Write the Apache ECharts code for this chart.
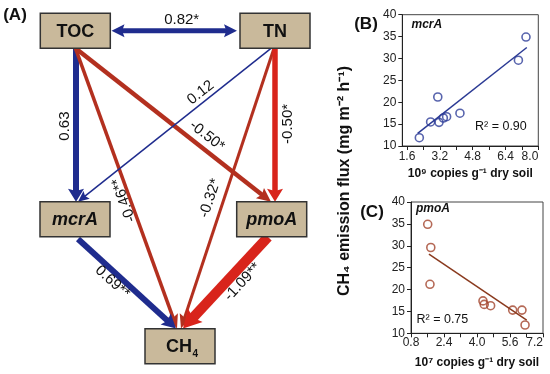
<!DOCTYPE html>
<html><head><meta charset="utf-8">
<script src="https://cdn.jsdelivr.net/npm/echarts@6/dist/echarts.min.js"></script>
<style>html,body{margin:0;padding:0;background:#fff}#c{width:550px;height:374px}</style>
</head><body><div id="c"></div>
<script>
// ---------- Panel A: path model ----------
const pathNodes = ['TOC', 'TN', 'mcrA', 'pmoA', 'CH4'];
const pathFrom = ['TOC', 'TOC', 'TOC', 'TOC', 'TN', 'TN', 'TN', 'mcrA', 'pmoA'];
const pathTo   = ['TN', 'mcrA', 'CH4', 'pmoA', 'mcrA', 'CH4', 'pmoA', 'CH4', 'CH4'];
const pathCoef = [0.82, 0.63, -0.46, -0.50, 0.12, -0.32, -0.50, 0.69, -1.09];
const pathSig  = ['*', '', '**', '*', '', '*', '*', '**', '**'];

// ---------- Panel B: mcrA ----------
const mcrACopies = [2.20, 2.75, 3.10, 3.16, 3.37, 3.53, 4.18, 7.03, 7.40];
const mcrAFlux   = [11.9, 15.5, 21.2, 15.4, 16.4, 16.7, 17.5, 29.6, 34.9];
const mcrAFitX = [2.12, 7.44];
const mcrAFitY = [12.9, 32.5];
const mcrAR2 = '0.90';
const mcrATickLabels = [1.6, 3.2, 4.8, 6.4, 8.0];
const mcrATicks = [1.6, 2.4, 3.2, 4.0, 4.8, 5.6, 6.4, 7.2, 8.0];

// ---------- Panel C: pmoA ----------
const pmoACopies = [1.61, 1.76, 1.72, 4.29, 4.35, 4.66, 5.73, 6.18, 6.33];
const pmoAFlux   = [34.9, 29.6, 21.2, 17.4, 16.6, 16.3, 15.3, 15.3, 11.9];
const pmoAFitX = [1.67, 6.41];
const pmoAFitY = [28.1, 13.0];
const pmoAR2 = '0.75';
const pmoATickLabels = [0.8, 2.4, 4.0, 5.6, 7.2];
const pmoATicks = [0.8, 1.6, 2.4, 3.2, 4.0, 4.8, 5.6, 6.4, 7.2];

const fluxTicks = [10, 15, 20, 25, 30, 35, 40];

// ---------- layout (kept separate from data) ----------
const nodeLayout = { TOC: [75.3, 30.8], TN: [275, 30.8], mcrA: [75, 219.2], pmoA: [271.7, 219.2], CH4: [180, 346.2] };
const nodeSize = [70, 35];
const edgeAnchor = [
  [[36.2, 0], [-38, 0]],
  [[0.7, 17.5], [1, -17.5]],
  [[0.2, 17.5], [-3, -17.7]],
  [[0.2, 17.5], [-0.7, -17.5]],
  [[-4, 17.5], [3, -17.5]],
  [[-1, 17.5], [1, -17.7]],
  [[0, 17.5], [3.3, -17.5]],
  [[3, 19.8], [-4, -17.7]],
  [[-3.7, 17.8], [3, -17.7]]
];
// [t along edge, perpendicular offset, flip text]
const edgeLabelPos = [
  [0.559, -11, false],
  [0.507, 11.3, true],
  [0.534, 6, true],
  [0.634, -12.2, false],
  [0.335, 9.1, true],
  [0.55, 13.4, true],
  [0.493, -12.5, true],
  [0.41, 8.5, false],
  [0.403, -11.9, true]
];
const edgeStyle = [
  { width: 5, head: [13, 13], double: true },
  { width: 6, head: [13, 16] },
  { width: 3.5, head: [14, 12], dark: true },
  { width: 4.5, head: [14, 13], dark: true },
  { width: 1.5, head: [11, 10] },
  { width: 3, head: [14, 12], dark: true },
  { width: 5.5, head: [13, 16] },
  { width: 6, head: [14, 15] },
  { width: 10, head: [18, 20] }
];
const BLUE = '#1f2c8e', RED = '#d8241b', RED_DARK = '#b3301f';
const FF = '"Liberation Sans", Arial, Helvetica, sans-serif';

function edgeItem(params, api) {
  const i = params.dataIndex;
  const a = nodeLayout[pathFrom[i]], b = nodeLayout[pathTo[i]];
  const ao = edgeAnchor[i][0], bo = edgeAnchor[i][1];
  const S = api.coord([a[0] + ao[0], a[1] + ao[1]]);
  const T = api.coord([b[0] + bo[0], b[1] + bo[1]]);
  const dx = T[0] - S[0], dy = T[1] - S[1], len = Math.hypot(dx, dy);
  const ux = dx / len, uy = dy / len, nx = -uy, ny = ux;
  const st = edgeStyle[i];
  const color = pathCoef[i] >= 0 ? BLUE : (st.dark ? RED_DARK : RED);
  const L = st.head[0], W = st.head[1];
  function head(tip, sx, sy) {
    const bx = tip[0] - sx * L, by = tip[1] - sy * L;
    const mx = -sy, my = sx;
    return { type: 'polygon', shape: { points: [
      [tip[0], tip[1]],
      [bx + mx * W / 2, by + my * W / 2],
      [tip[0] - sx * L * 0.82, tip[1] - sy * L * 0.82],
      [bx - mx * W / 2, by - my * W / 2]
    ] }, style: { fill: color } };
  }
  const s0 = st.double ? [S[0] + ux * L * 0.7, S[1] + uy * L * 0.7] : S;
  const e0 = [T[0] - ux * L * 0.7, T[1] - uy * L * 0.7];
  const children = [
    { type: 'line', shape: { x1: s0[0], y1: s0[1], x2: e0[0], y2: e0[1] }, style: { stroke: color, lineWidth: st.width } },
    head(T, ux, uy)
  ];
  if (st.double) children.push(head(S, -ux, -uy));
  const lb = edgeLabelPos[i];
  const px = S[0] + dx * lb[0] + nx * lb[1], py = S[1] + dy * lb[0] + ny * lb[1];
  let ang = Math.atan2(dy, dx);
  if (lb[2]) ang += Math.PI;
  children.push({ type: 'text', x: px, y: py, rotation: -ang, z2: 10,
    style: { text: pathCoef[i].toFixed(2) + pathSig[i], x: 0, y: 0, align: 'center', verticalAlign: 'middle',
      font: '15px ' + FF, fill: '#111' } });
  return { type: 'group', children };
}

function nodeItem(params, api) {
  const name = pathNodes[params.dataIndex];
  const c = api.coord(nodeLayout[name]);
  const w = nodeSize[0], h = nodeSize[1];
  const children = [
    { type: 'rect', shape: { x: c[0] - w / 2, y: c[1] - h / 2, width: w, height: h },
      style: { fill: '#c9b99b', stroke: '#333', lineWidth: 1.5 } }
  ];
  if (name === 'CH4') {
    children.push({ type: 'text', x: c[0] + 12, y: c[1] + 1, style: { text: 'CH', align: 'right', verticalAlign: 'middle', font: 'bold 18px ' + FF, fill: '#111' } });
    children.push({ type: 'text', x: c[0] + 12.5, y: c[1] + 8, style: { text: '4', align: 'left', verticalAlign: 'middle', font: 'bold 10px ' + FF, fill: '#111' } });
  } else {
    const italic = (name === 'mcrA' || name === 'pmoA') ? 'italic ' : '';
    children.push({ type: 'text', x: c[0], y: c[1] + 1, style: { text: name, align: 'center', verticalAlign: 'middle', font: italic + 'bold 18px ' + FF, fill: '#111' } });
  }
  return { type: 'group', children };
}

function valueAxisX(grid, min, max, ticks, labels, name, gap, margin) {
  return {
    gridIndex: grid, type: 'value', min: min, max: max,
    axisLine: { show: true, onZero: false, lineStyle: { color: '#222', width: 1 } },
    axisTick: { show: true, customValues: ticks, length: 4, inside: false, lineStyle: { color: '#222' } },
    axisLabel: { customValues: labels, formatter: v => v.toFixed(1), fontSize: 12, fontFamily: FF, color: '#222', margin: margin, alignMaxLabel: 'right' },
    splitLine: { show: false },
    name: name, nameLocation: 'middle', nameGap: gap,
    nameTextStyle: { fontWeight: 'bold', fontSize: 12, fontFamily: FF, color: '#111' }
  };
}
function valueAxisY(grid) {
  return {
    gridIndex: grid, type: 'value', min: fluxTicks[0], max: fluxTicks[fluxTicks.length - 1], interval: 5,
    axisLine: { show: true, onZero: false, lineStyle: { color: '#222', width: 1 } },
    axisTick: { show: true, length: 4, lineStyle: { color: '#222' } },
    axisLabel: { fontSize: 12, fontFamily: FF, color: '#222', margin: 6 },
    splitLine: { show: false }
  };
}

const option = {
  animation: false,
  backgroundColor: '#fff',
  grid: [
    { left: 402.3, top: 14.7, width: 136, height: 131.3, show: true, borderColor: '#444', borderWidth: 1 },
    { left: 411, top: 202, width: 132, height: 131.3, show: true, borderColor: '#444', borderWidth: 1 },
    { left: 0, top: 0, width: 330, height: 374 }
  ],
  xAxis: [
    valueAxisX(0, 1.37, 8.0, mcrATicks, mcrATickLabels, '10⁹ copies g⁻¹ dry soil', 22, 5),
    valueAxisX(1, 0.8, 7.2, pmoATicks, pmoATickLabels, '10⁷ copies g⁻¹ dry soil', 23, 3),
    { gridIndex: 2, type: 'value', min: 0, max: 330, show: false }
  ],
  yAxis: [
    valueAxisY(0),
    valueAxisY(1),
    { gridIndex: 2, type: 'value', min: 0, max: 374, inverse: true, show: false }
  ],
  series: [
    { type: 'scatter', xAxisIndex: 0, yAxisIndex: 0, symbol: 'circle', symbolSize: 8,
      itemStyle: { color: 'rgba(0,0,0,0)', borderColor: '#2e3d98', borderWidth: 1.6 },
      data: mcrACopies.map((x, i) => [x, mcrAFlux[i]]) },
    { type: 'line', xAxisIndex: 0, yAxisIndex: 0, showSymbol: false, symbol: 'none',
      lineStyle: { color: '#2b3a94', width: 1.5 }, data: mcrAFitX.map((x, i) => [x, mcrAFitY[i]]) },
    { type: 'scatter', xAxisIndex: 1, yAxisIndex: 1, symbol: 'circle', symbolSize: 8,
      itemStyle: { color: 'rgba(0,0,0,0)', borderColor: '#a3442c', borderWidth: 1.6 },
      data: pmoACopies.map((x, i) => [x, pmoAFlux[i]]) },
    { type: 'line', xAxisIndex: 1, yAxisIndex: 1, showSymbol: false, symbol: 'none',
      lineStyle: { color: '#8a3a1e', width: 1.5 }, data: pmoAFitX.map((x, i) => [x, pmoAFitY[i]]) },
    { type: 'custom', coordinateSystem: 'cartesian2d', xAxisIndex: 2, yAxisIndex: 2, clip: false, z: 2,
      renderItem: edgeItem, data: pathCoef.map((v, i) => [i, i]) },
    { type: 'custom', coordinateSystem: 'cartesian2d', xAxisIndex: 2, yAxisIndex: 2, clip: false, z: 3,
      renderItem: nodeItem, data: pathNodes.map((n, i) => [i, i]) }
  ],
  graphic: [
    { type: 'text', x: 15, y: 15, style: { text: '(A)', font: 'bold 17px ' + FF, fill: '#111', align: 'center', verticalAlign: 'middle', textAlign: 'center', textVerticalAlign: 'middle' } },
    { type: 'text', x: 366, y: 24, style: { text: '(B)', font: 'bold 17px ' + FF, fill: '#111', align: 'center', verticalAlign: 'middle', textAlign: 'center', textVerticalAlign: 'middle' } },
    { type: 'text', x: 372, y: 212, style: { text: '(C)', font: 'bold 17px ' + FF, fill: '#111', align: 'center', verticalAlign: 'middle', textAlign: 'center', textVerticalAlign: 'middle' } },
    { type: 'text', x: 411.5, y: 24.5, style: { text: 'mcrA', font: 'italic bold 12px ' + FF, fill: '#111', align: 'left', verticalAlign: 'middle', textAlign: 'left', textVerticalAlign: 'middle' } },
    { type: 'text', x: 416, y: 209, style: { text: 'pmoA', font: 'italic bold 12px ' + FF, fill: '#111', align: 'left', verticalAlign: 'middle', textAlign: 'left', textVerticalAlign: 'middle' } },
    { type: 'text', x: 475, y: 127, style: { text: 'R² = ' + mcrAR2, font: '12.5px ' + FF, fill: '#111', align: 'left', verticalAlign: 'middle', textAlign: 'left', textVerticalAlign: 'middle' } },
    { type: 'text', x: 416.5, y: 320, style: { text: 'R² = ' + pmoAR2, font: '12.5px ' + FF, fill: '#111', align: 'left', verticalAlign: 'middle', textAlign: 'left', textVerticalAlign: 'middle' } },
    { type: 'text', x: 345, y: 181, rotation: Math.PI / 2, style: { text: 'CH₄ emission flux (mg m⁻² h⁻¹)', font: 'bold 16px ' + FF, fill: '#111', align: 'center', verticalAlign: 'middle', textAlign: 'center', textVerticalAlign: 'middle' } }
  ]
};
const chart = echarts.init(document.getElementById('c'), null, { renderer: 'canvas' });
chart.setOption(option);
</script>
</body></html>
